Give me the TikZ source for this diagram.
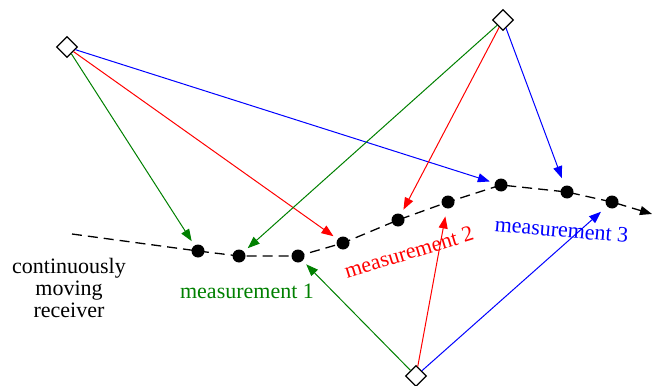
\documentclass[tikz,border=0pt]{standalone}
\usepackage{fontspec}
\setmainfont{Liberation Serif}
\usetikzlibrary{arrows.meta,shapes.geometric}
\definecolor{mgreen}{RGB}{0,128,0}
\definecolor{mred}{RGB}{255,0,0}
\definecolor{mblue}{RGB}{0,0,255}
\begin{document}
\begin{tikzpicture}[x=1pt,y=-1pt,
  sat/.style={diamond,aspect=1,draw=black,fill=white,line width=1.3pt,minimum size=21pt,inner sep=0pt},
  dot/.style={circle,fill=black,minimum size=13pt,inner sep=0pt},
  sig/.style={line width=1pt,-{Triangle[length=12pt,width=9pt]},shorten >=5pt},
  track/.style={line width=1.3pt,dash pattern=on 10pt off 6pt,-{Triangle[length=12pt,width=9pt]}},
  lbl/.style={font=\fontsize{22}{22}\selectfont,anchor=base,inner sep=0pt}]
\useasboundingbox (0,0) rectangle (652,385);

% receiver track
\coordinate (r0) at (72,234);
\coordinate (r1) at (652,214);
\node[dot] (d1) at (198,251) {};
\node[dot] (d2) at (239,256) {};
\node[dot] (d3) at (298,256) {};
\node[dot] (d4) at (343,243) {};
\node[dot] (d5) at (398,220) {};
\node[dot] (d6) at (448,202) {};
\node[dot] (d7) at (501,185) {};
\node[dot] (d8) at (567,192) {};
\node[dot] (d9) at (612,202) {};
\draw[track] (r0) -- (d1.center) -- (d2.center) -- (d3.center) -- (d4.center) -- (d5.center)
  -- (d6.center) -- (d7.center) -- (d8.center) -- (d9.center) -- (r1);

% transmitters
\node[sat] (s1) at (67,47) {};
\node[sat] (s2) at (503,20) {};
\node[sat] (s3) at (416,376) {};

% signals
\draw[sig,mgreen] (s1) -- (d1);
\draw[sig,mred] (s1) -- (d4);
\draw[sig,mblue] (s1) -- (d7);
\draw[sig,mgreen] (s2) -- (d2);
\draw[sig,mred] (s2) -- (d5);
\draw[sig,mblue,shorten >=8pt] (s2) -- (d8);
\draw[sig,mgreen] (s3) -- (d3);
\draw[sig,mred,shorten >=8pt] (s3) -- (d6);
\draw[sig,mblue,shorten >=8pt] (s3) -- (d9);

% labels
\node[font=\fontsize{22}{22}\selectfont,align=center,anchor=north,inner sep=0pt] (rx) at (69,258)
  {continuously\\moving\\receiver};
\node[lbl,text=mgreen] (m1) at (247,298) {measurement 1};
\node[lbl,text=mred,rotate=17] (m2) at (411,259) {measurement 2};
\node[lbl,text=mblue,rotate=-5] (m3) at (561,237) {measurement 3};
\end{tikzpicture}
\end{document}
